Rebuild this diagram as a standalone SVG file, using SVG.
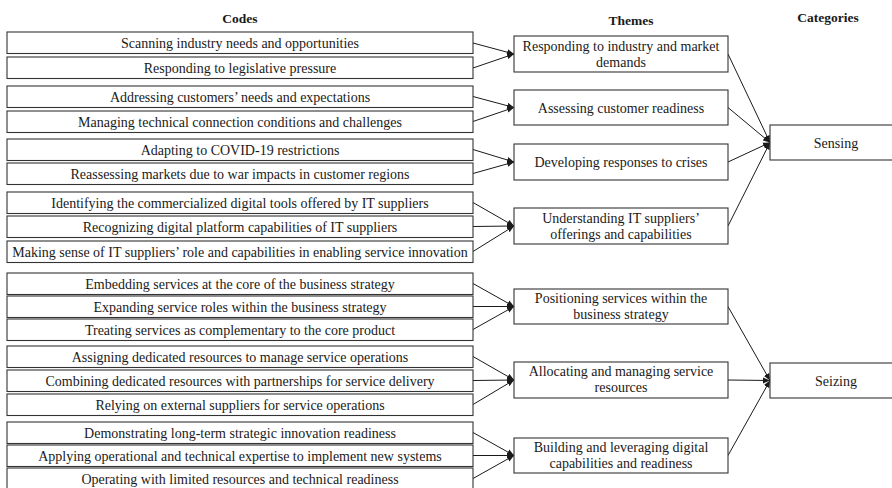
<svg xmlns="http://www.w3.org/2000/svg" width="892" height="488" viewBox="0 0 892 488">
<style>
  .box { fill: #ffffff; stroke: #333333; stroke-width: 1.1; }
  .t { font-family: "Liberation Serif", "Times New Roman", serif; font-size: 14px; fill: #1a1a1a; text-anchor: middle; }
  .h { font-family: "Liberation Serif", "Times New Roman", serif; font-size: 13.5px; font-weight: bold; fill: #1a1a1a; text-anchor: middle; }
  .c { stroke: #1a1a1a; stroke-width: 1; fill: none; marker-end: url(#arr); }
</style>
<defs>
  <marker id="arr" markerUnits="userSpaceOnUse" markerWidth="8" markerHeight="7" refX="7" refY="3.5" orient="auto">
    <path d="M0,0.5 L7,3.5 L0,6.5 z" fill="#1a1a1a"/>
  </marker>
</defs>
<rect width="892" height="488" fill="#ffffff"/>

<g id="headers">
  <text class="h" x="240" y="23">Codes</text>
  <text class="h" x="631" y="25">Themes</text>
  <text class="h" x="828" y="22">Categories</text>
</g>

<g id="connectors">
  <line class="c" x1="473" y1="43" x2="514" y2="54"/>
  <line class="c" x1="473" y1="68" x2="514" y2="54"/>
  <line class="c" x1="473" y1="96.5" x2="514" y2="107.5"/>
  <line class="c" x1="473" y1="121.5" x2="514" y2="107.5"/>
  <line class="c" x1="473" y1="149.5" x2="514" y2="162"/>
  <line class="c" x1="473" y1="173.5" x2="514" y2="162"/>
  <line class="c" x1="473" y1="202.5" x2="514" y2="226"/>
  <line class="c" x1="473" y1="226.5" x2="514" y2="226"/>
  <line class="c" x1="473" y1="251.5" x2="514" y2="226"/>
  <line class="c" x1="473" y1="283.5" x2="514" y2="306.5"/>
  <line class="c" x1="473" y1="306.5" x2="514" y2="306.5"/>
  <line class="c" x1="473" y1="329.5" x2="514" y2="306.5"/>
  <line class="c" x1="473" y1="356.5" x2="514" y2="380"/>
  <line class="c" x1="473" y1="380.5" x2="514" y2="380"/>
  <line class="c" x1="473" y1="404.5" x2="514" y2="380"/>
  <line class="c" x1="473" y1="432.5" x2="514" y2="455.5"/>
  <line class="c" x1="473" y1="455.5" x2="514" y2="455.5"/>
  <line class="c" x1="473" y1="478.5" x2="514" y2="455.5"/>
  <line class="c" x1="728" y1="54" x2="770" y2="142.5"/>
  <line class="c" x1="728" y1="107.5" x2="770" y2="142.5"/>
  <line class="c" x1="728" y1="162" x2="770" y2="142.5"/>
  <line class="c" x1="728" y1="226" x2="770" y2="142.5"/>
  <line class="c" x1="728" y1="306.5" x2="770" y2="380.5"/>
  <line class="c" x1="728" y1="380" x2="770" y2="380.5"/>
  <line class="c" x1="728" y1="455.5" x2="770" y2="380.5"/>
</g>

<g id="code1"><rect class="box" x="7" y="32" width="466" height="21.5"/><text class="t" x="240" y="47.5">Scanning industry needs and opportunities</text></g>
<g id="code2"><rect class="box" x="7" y="57" width="466" height="21.5"/><text class="t" x="240" y="72.5">Responding to legislative pressure</text></g>
<g id="code3"><rect class="box" x="7" y="86" width="466" height="21.5"/><text class="t" x="240" y="101.5">Addressing customers’ needs and expectations</text></g>
<g id="code4"><rect class="box" x="7" y="111" width="466" height="21.5"/><text class="t" x="240" y="126.5">Managing technical connection conditions and challenges</text></g>
<g id="code5"><rect class="box" x="7" y="139" width="466" height="21.5"/><text class="t" x="240" y="154.5">Adapting to COVID-19 restrictions</text></g>
<g id="code6"><rect class="box" x="7" y="163" width="466" height="21.5"/><text class="t" x="240" y="178.5">Reassessing markets due to war impacts in customer regions</text></g>
<g id="code7"><rect class="box" x="7" y="192" width="466" height="21.5"/><text class="t" x="240" y="207.5">Identifying the commercialized digital tools offered by IT suppliers</text></g>
<g id="code8"><rect class="box" x="7" y="216" width="466" height="21.5"/><text class="t" x="240" y="231.5">Recognizing digital platform capabilities of IT suppliers</text></g>
<g id="code9"><rect class="box" x="7" y="241" width="466" height="21.5"/><text class="t" x="240" y="256.5">Making sense of IT suppliers’ role and capabilities in enabling service innovation</text></g>
<g id="code10"><rect class="box" x="7" y="273" width="466" height="21.5"/><text class="t" x="240" y="288.5">Embedding services at the core of the business strategy</text></g>
<g id="code11"><rect class="box" x="7" y="296" width="466" height="21.5"/><text class="t" x="240" y="311.5">Expanding service roles within the business strategy</text></g>
<g id="code12"><rect class="box" x="7" y="319" width="466" height="21.5"/><text class="t" x="240" y="334.5">Treating services as complementary to the core product</text></g>
<g id="code13"><rect class="box" x="7" y="346" width="466" height="21.5"/><text class="t" x="240" y="361.5">Assigning dedicated resources to manage service operations</text></g>
<g id="code14"><rect class="box" x="7" y="370" width="466" height="21.5"/><text class="t" x="240" y="385.5">Combining dedicated resources with partnerships for service delivery</text></g>
<g id="code15"><rect class="box" x="7" y="394" width="466" height="21.5"/><text class="t" x="240" y="409.5">Relying on external suppliers for service operations</text></g>
<g id="code16"><rect class="box" x="7" y="422" width="466" height="21.5"/><text class="t" x="240" y="437.5">Demonstrating long-term strategic innovation readiness</text></g>
<g id="code17"><rect class="box" x="7" y="445" width="466" height="21.5"/><text class="t" x="240" y="460.5">Applying operational and technical expertise to implement new systems</text></g>
<g id="code18"><rect class="box" x="7" y="468" width="466" height="21.5"/><text class="t" x="240" y="483.5">Operating with limited resources and technical readiness</text></g>

<g id="theme1"><rect class="box" x="514" y="36" width="214" height="36"/><text class="t" x="621" y="50.5">Responding to industry and market</text><text class="t" x="621" y="66.5">demands</text></g>
<g id="theme2"><rect class="box" x="514" y="90" width="214" height="35"/><text class="t" x="621" y="112.5">Assessing customer readiness</text></g>
<g id="theme3"><rect class="box" x="514" y="144" width="214" height="36"/><text class="t" x="621" y="167">Developing responses to crises</text></g>
<g id="theme4"><rect class="box" x="514" y="208" width="214" height="36"/><text class="t" x="621" y="223">Understanding IT suppliers’</text><text class="t" x="621" y="239">offerings and capabilities</text></g>
<g id="theme5"><rect class="box" x="514" y="289" width="214" height="35"/><text class="t" x="621" y="303">Positioning services within the</text><text class="t" x="621" y="319">business strategy</text></g>
<g id="theme6"><rect class="box" x="514" y="362" width="214" height="36"/><text class="t" x="621" y="376">Allocating and managing service</text><text class="t" x="621" y="392">resources</text></g>
<g id="theme7"><rect class="box" x="514" y="438" width="214" height="35"/><text class="t" x="621" y="452">Building and leveraging digital</text><text class="t" x="621" y="468">capabilities and readiness</text></g>

<g id="sensing"><rect class="box" x="770" y="125" width="132" height="35"/><text class="t" x="836" y="147.5">Sensing</text></g>
<g id="seizing"><rect class="box" x="770" y="363" width="132" height="35"/><text class="t" x="836" y="385.5">Seizing</text></g>
</svg>
